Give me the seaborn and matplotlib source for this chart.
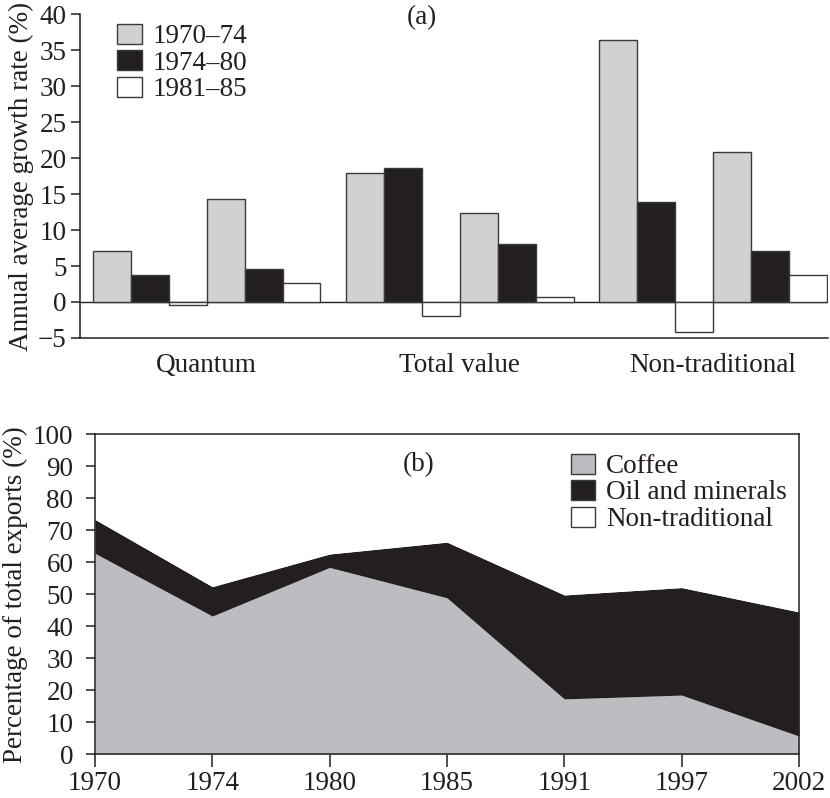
import numpy as np
import pandas as pd
import matplotlib
matplotlib.use('Agg')
import matplotlib.pyplot as plt
from matplotlib.patches import Patch
import seaborn as sns

# (a) growth rates: two sets of three periods per category
categories = ['Quantum', 'Total value', 'Non-traditional']
periods = ['1970–74', '1974–80', '1981–85']
set1_7074 = [7.1, 17.9, 36.4]
set1_7480 = [3.7, 18.6, 13.9]
set1_8185 = [-0.45, -1.95, -4.15]
set2_7074 = [14.3, 12.4, 20.8]
set2_7480 = [4.6, 8.05, 7.1]
set2_8185 = [2.6, 0.65, 3.8]

# (b) share of total exports
years = ['1970', '1974', '1980', '1985', '1991', '1997', '2002']
coffee = [62.8, 43.2, 58.4, 48.9, 17.3, 18.5, 5.7]
oil_minerals = [10.6, 9.2, 4.2, 17.4, 32.5, 33.6, 38.8]
non_traditional = [26.6, 47.6, 37.4, 33.7, 50.2, 47.9, 55.5]

grey = '#d0d1d3'
black = '#231f20'
edge = '#3a3a3a'
fs = 19.5

sns.set_theme(style='ticks')
plt.rcParams['font.family'] = ['Liberation Serif', 'DejaVu Serif']
plt.rcParams['font.size'] = fs
plt.rcParams['axes.linewidth'] = 1.1
plt.rcParams['axes.edgecolor'] = black
plt.rcParams['xtick.color'] = black
plt.rcParams['ytick.color'] = black
plt.rcParams['text.color'] = black
plt.rcParams['axes.labelcolor'] = black

rows = []
series = [set1_7074, set1_7480, set1_8185, set2_7074, set2_7480, set2_8185]
keys = [f'{s} {p}' for s in ['A', 'B'] for p in periods]
for key, vals in zip(keys, series):
    for cat, v in zip(categories, vals):
        rows.append({'category': cat, 'key': key, 'value': v})
df_a = pd.DataFrame(rows)
palette = dict(zip(keys, [grey, black, 'white'] * 2))

fig = plt.figure(figsize=(8.3, 7.98), dpi=100)
ax1 = fig.add_axes([80 / 830, 1 - 338 / 798, 748 / 830, 324 / 798])
ax2 = fig.add_axes([95 / 830, 1 - 754.3 / 798, 704 / 830, 320 / 798])

sns.barplot(data=df_a, x='category', y='value', hue='key', hue_order=keys,
            palette=palette, width=0.9, edgecolor=edge, linewidth=1.0,
            saturation=1, legend=False, ax=ax1)
ax1.axhline(0, color=black, lw=1.0, zorder=0)
ax1.set_ylim(-5, 40)
ax1.set_xlim(-0.5, 2.455)
ax1.set_yticks(range(-5, 41, 5))
ax1.set_yticklabels(['−5'] + [str(v) for v in range(0, 41, 5)])
ax1.set_xlabel('')
ax1.set_ylabel('Annual average growth rate (%)', fontsize=fs, labelpad=3)
ax1.tick_params(axis='x', length=0, pad=11, labelsize=fs)
ax1.tick_params(axis='y', length=6.5, width=1.1, pad=3, labelsize=fs)
sns.despine(ax=ax1)
ax1.text(0.457, 0.988, '(a)', transform=ax1.transAxes, ha='center', va='center', fontsize=fs)
handles = [Patch(facecolor=c, edgecolor=edge, lw=1.0) for c in [grey, black, 'white']]
ax1.legend(handles, periods, loc='upper left', bbox_to_anchor=(0.05, 0.97),
           frameon=False, borderpad=0, borderaxespad=0, handlelength=0.9,
           handleheight=0.76, handletextpad=0.4, labelspacing=0.04, fontsize=fs)

x = np.arange(len(years))
ax2.stackplot(x, coffee, oil_minerals, non_traditional,
              colors=['#bcbdc0', black, 'white'], linewidth=0)
ax2.set_xlim(0, len(years) - 1)
ax2.set_ylim(0, 100)
ax2.set_xticks(x)
ax2.set_xticklabels(years)
ax2.set_yticks(range(0, 101, 10))
ax2.set_ylabel('Percentage of total exports (%)', fontsize=fs, labelpad=3.5)
ax2.tick_params(axis='x', length=9, width=1.1, pad=3, labelsize=fs)
ax2.tick_params(axis='y', length=6.5, width=1.1, pad=9, labelsize=fs)
ax2.text(0.46, 0.904, '(b)', transform=ax2.transAxes, ha='center', va='center', fontsize=fs)
handles2 = [Patch(facecolor=c, edgecolor=edge, lw=1.0) for c in ['#bcbdc0', black, 'white']]
ax2.legend(handles2, ['Coffee', 'Oil and minerals', 'Non-traditional'], loc='upper left',
           bbox_to_anchor=(0.676, 0.94), frameon=False, borderpad=0, borderaxespad=0,
           handlelength=0.9, handleheight=0.76, handletextpad=0.4, labelspacing=0.04,
           fontsize=fs)

fig.savefig('out.png', dpi=100)
